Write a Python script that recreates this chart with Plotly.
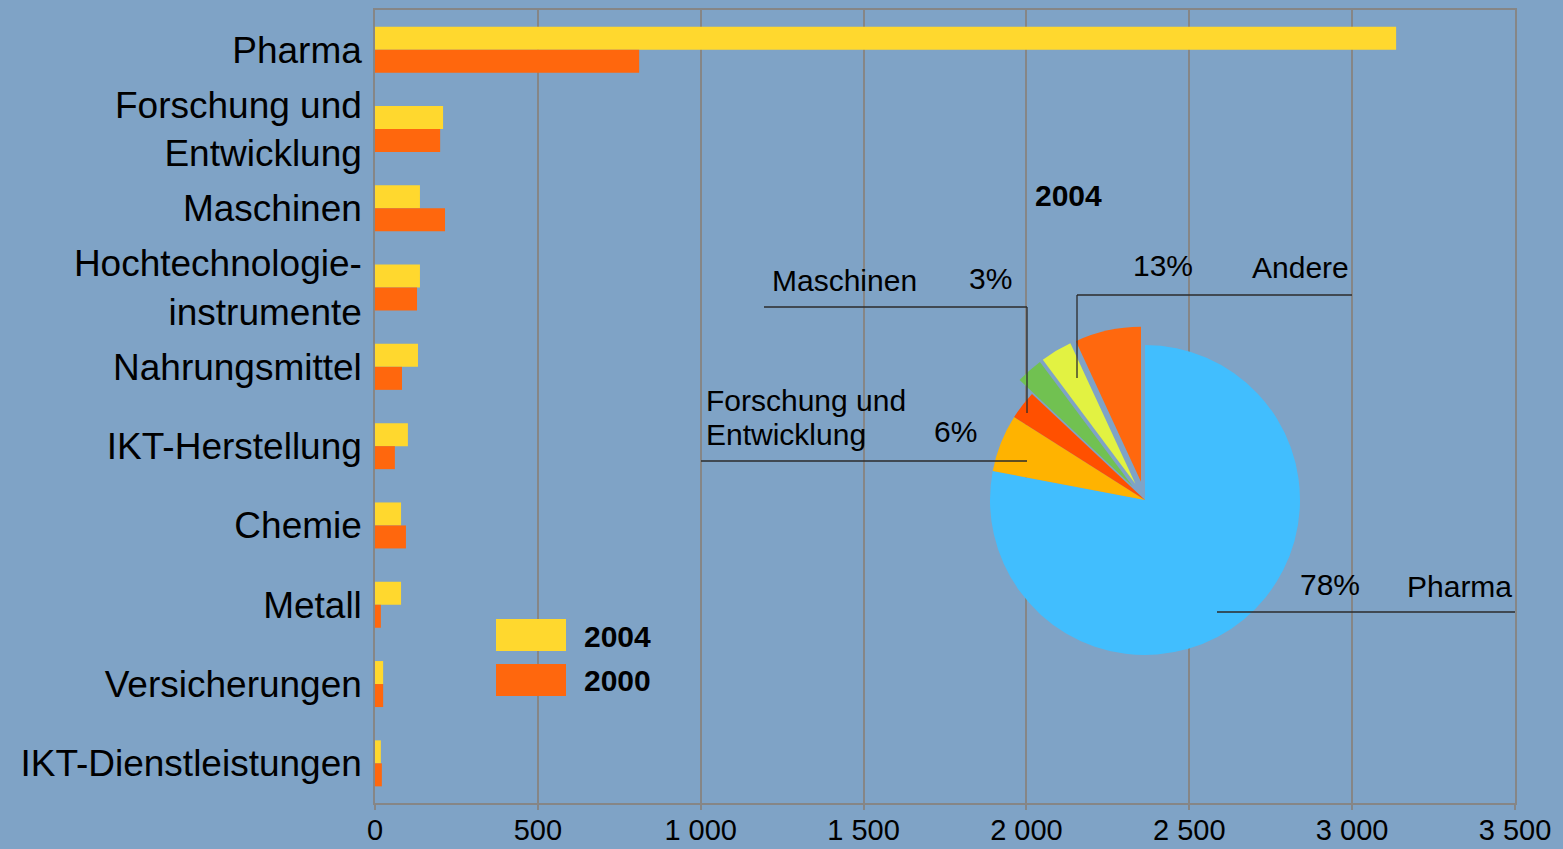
import plotly.graph_objects as go

# ------------------------------
# data
# ------------------------------
categories = [
    "Pharma",
    "Forschung und<br>Entwicklung",
    "Maschinen",
    "Hochtechnologie-<br>instrumente",
    "Nahrungsmittel",
    "IKT-Herstellung",
    "Chemie",
    "Metall",
    "Versicherungen",
    "IKT-Dienstleistungen",
]
values_2004 = [3135, 209, 138, 138, 132, 101, 80, 80, 25, 18]
values_2000 = [811, 200, 215, 129, 83, 61, 95, 18, 25, 21]

x_tickvals = [0, 500, 1000, 1500, 2000, 2500, 3000, 3500]
x_ticktext = ["0", "500", "1 000", "1 500", "2 000", "2 500", "3 000", "3 500"]

pie_labels = ["Pharma", "Forschung und Entwicklung", "Maschinen",
              "Andere (1)", "Andere (2)", "Andere (3)"]
pie_values = [78, 6, 3, 2.8, 3.3, 6.9]
pie_colors = ["#41BEFE", "#FFB300", "#FF5000", "#71C151", "#E2F242", "#FF680E"]
pie_pull = [0, 0, 0, 0.12, 0.12, 0.12]

pie_title = "2004"
pie_names = ["Maschinen", "Andere", "Forschung und", "Entwicklung", "Pharma"]
pie_pcts = ["3%", "13%", "6%", "78%"]

BG = "#7FA3C6"
YELLOW = "#FFD82E"
ORANGE = "#FF670D"
GRID = "#868686"
FONT = "Liberation Sans, Arial, sans-serif"

# plot area in pixels (for placing overlay items)
L, R, T, B = 375, 1515, 10, 803
W, H = R - L, B - T


def px(x):
    return (x - L) / W


def py(y):
    return 1 - (y - T) / H


fig = go.Figure()

fig.add_trace(go.Bar(
    y=categories, x=values_2004, orientation="h", name="2004",
    marker=dict(color=YELLOW, line=dict(width=0)), showlegend=False,
))
fig.add_trace(go.Bar(
    y=categories, x=values_2000, orientation="h", name="2000",
    marker=dict(color=ORANGE, line=dict(width=0)), showlegend=False,
))

# pie inset
r = 155
d = 2 * r * (1 + max(pie_pull))
cx, cy = 1145, 500
fig.add_trace(go.Pie(
    labels=pie_labels, values=pie_values, sort=False, direction="clockwise",
    rotation=0, pull=pie_pull, textinfo="none", hoverinfo="label+percent",
    marker=dict(colors=pie_colors, line=dict(width=0)), showlegend=False,
    domain=dict(x=[px(cx - d / 2), px(cx + d / 2)],
                y=[py(cy + d / 2), py(cy - d / 2)]),
))

# leader lines
line_style = dict(color="#2B2B2B", width=1.3)
segments = [
    (764, 307, 1027, 307), (1027, 307, 1027, 413),
    (1077, 295, 1352, 295), (1077, 295, 1077, 378),
    (701, 461, 1027, 461),
    (1217, 612, 1515, 612),
]
shapes = []
for x0, y0, x1, y1 in segments:
    shapes.append(dict(type="line", xref="paper", yref="paper",
                       x0=px(x0), y0=py(y0), x1=px(x1), y1=py(y1),
                       line=line_style, layer="above"))

# legend boxes
shapes.append(dict(type="rect", xref="paper", yref="paper",
                   x0=px(496), x1=px(566), y0=py(651), y1=py(619),
                   fillcolor=YELLOW, line=dict(width=0), layer="above"))
shapes.append(dict(type="rect", xref="paper", yref="paper",
                   x0=px(496), x1=px(566), y0=py(696), y1=py(664),
                   fillcolor=ORANGE, line=dict(width=0), layer="above"))

txt = dict(family=FONT, size=30, color="black")
bold = dict(family=FONT, size=30, color="black", weight="bold")


def ann(text, x, y, anchor="center", font=txt):
    return dict(text=text, xref="paper", yref="paper", x=px(x), y=py(y),
                xanchor=anchor, yanchor="middle", showarrow=False, font=font)


annotations = [
    ann(pie_title, 1068, 195, font=bold),
    ann(pie_names[0], 770, 280, "left"),
    ann(pie_pcts[0], 990, 278),
    ann(pie_pcts[1], 1163, 265),
    ann(pie_names[1], 1300, 267),
    ann(pie_names[2], 704, 400, "left"),
    ann(pie_names[3], 704, 434, "left"),
    ann(pie_pcts[2], 955, 431),
    ann(pie_pcts[3], 1330, 584),
    ann(pie_names[4], 1459, 586),
    ann("2004", 582, 636, "left", bold),
    ann("2000", 582, 680, "left", bold),
]

fig.update_layout(
    width=1563, height=849,
    paper_bgcolor=BG, plot_bgcolor=BG,
    margin=dict(l=L, r=1563 - R, t=T, b=849 - B),
    barmode="group", bargap=0.42, bargroupgap=0,
    font=dict(family=FONT, color="black"),
    shapes=shapes, annotations=annotations,
    xaxis=dict(
        range=[0, 3500], tickvals=x_tickvals, ticktext=x_ticktext,
        showgrid=True, gridcolor=GRID, gridwidth=1.5,
        showline=True, linecolor=GRID, linewidth=1.5, mirror=True,
        ticks="outside", ticklen=5, tickcolor=GRID, tickwidth=1.5,
        tickfont=dict(size=29), ticklabelstandoff=-5,
        zeroline=False, fixedrange=True, automargin=False,
    ),
    yaxis=dict(
        autorange="reversed", showgrid=False,
        showline=True, linecolor=GRID, linewidth=1.5, mirror=True,
        ticks="", tickfont=dict(size=37), ticklabelstandoff=4,
        fixedrange=True, automargin=False,
    ),
)

fig.write_html(
    "out.html",
    config={"displayModeBar": False},
    post_script="document.body.style.margin='0';"
                "document.body.style.background='" + BG + "';",
)
